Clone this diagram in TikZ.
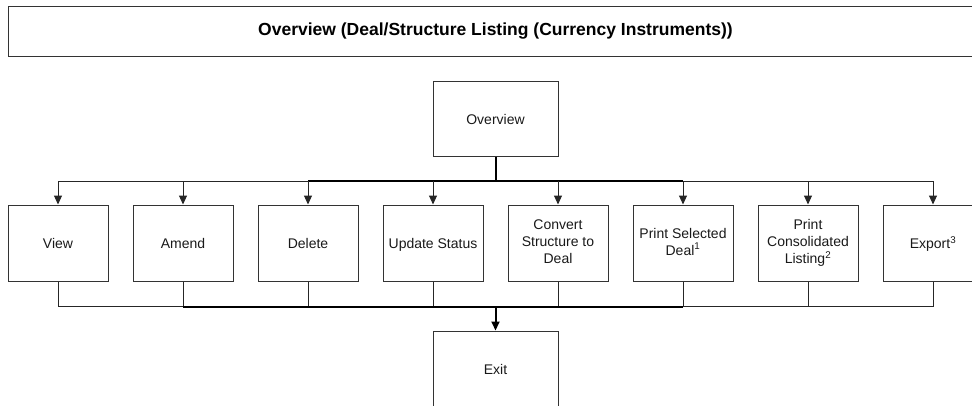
\documentclass[tikz,border=0pt]{standalone}
\usepackage{fontspec}
\setmainfont{Liberation Sans}
\usetikzlibrary{arrows.meta}
\begin{document}
\begin{tikzpicture}[x=1pt,y=-1pt,
  box/.style={draw=black!80, line width=1pt, rectangle, minimum width=100pt, minimum height=76pt,
    align=center, inner sep=0pt, text=black!90, font=\fontsize{14}{17}\selectfont,
    execute at begin node={\rule{0pt}{14pt}}, execute at end node={\rule[-3pt]{0pt}{3pt}}},
  bigbox/.style={box, minimum width=125pt, minimum height=75pt},
  titlebox/.style={draw=black!80, line width=1pt, rectangle, minimum width=975pt, minimum height=50pt,
    inner sep=0pt, font=\fontsize{17.5}{20}\selectfont\bfseries},
  ln/.style={line width=1pt, draw=black!85},
  thk/.style={line width=2pt, draw=black},
  arr/.style={-{Triangle[width=8pt,length=9pt]}}
]
\useasboundingbox (0,0) rectangle (972,405);
\node[titlebox] (title) at (495.5,31) {Overview (Deal/Structure Listing (Currency Instruments))};
\node[bigbox] (ov) at (495.5,118.5) {Overview};
\node[box] (b1) at (58,243) {View};
\node[box] (b2) at (183,243) {Amend};
\node[box] (b3) at (308,243) {Delete};
\node[box] (b4) at (433,243) {Update Status};
\node[box] (b5) at (558,243) {Convert\\Structure to\\Deal};
\node[box] (b6) at (683,243) {Print Selected\\Deal\textsuperscript{1}};
\node[box] (b7) at (808,243) {Print\\Consolidated\\Listing\textsuperscript{2}};
\node[box] (b8) at (933,243) {Export\textsuperscript{3}};
\node[bigbox] (ex) at (495.5,368.5) {Exit};
\coordinate (tb) at (495.5,181);
\coordinate (bb) at (495.5,306.5);
% top bus
\draw[ln] (b1 |- tb) -- (b8 |- tb);
\draw[thk] (b3 |- tb) -- (b6 |- tb);
\draw[thk] (ov.south) -- (tb);
\foreach \b in {b1,b2,b3,b4,b5,b6,b7,b8}{
  \draw[ln,arr,fill=black] (\b |- tb) -- (\b.north);
  \draw[ln] (\b.south) -- (\b |- bb);
}
% bottom bus
\draw[ln] (b1 |- bb) -- (b8 |- bb);
\draw[thk] (b2 |- bb) -- (b6 |- bb);
\draw[thk,arr] (bb) -- (ex.north);
\end{tikzpicture}
\end{document}
